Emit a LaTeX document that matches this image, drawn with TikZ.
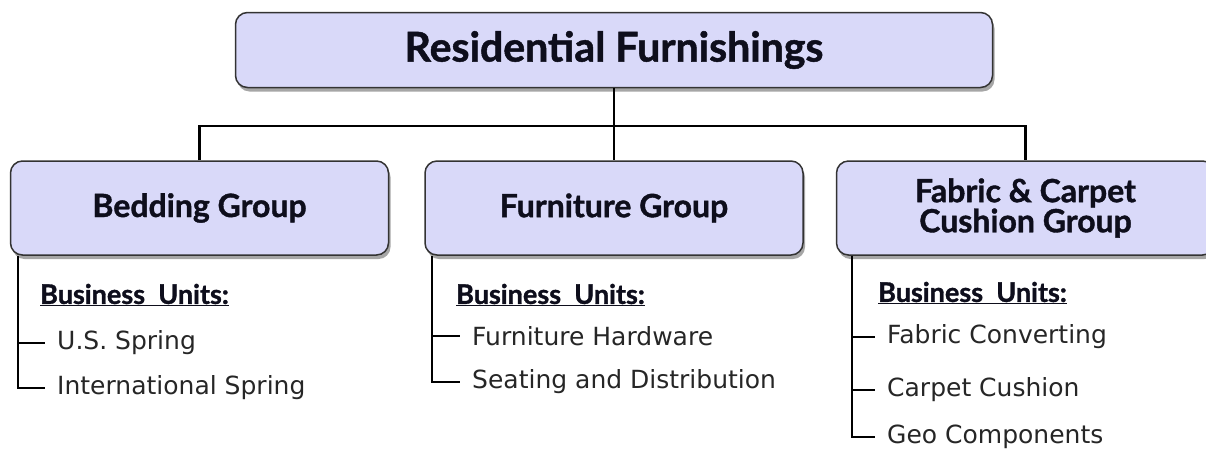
\documentclass[tikz,border=0pt]{standalone}
\usepackage{fontspec}
\setmainfont{DejaVu Sans}
\newfontfamily\headfont{Lato}[BoldFeatures={FakeBold=1.2}]
\usetikzlibrary{positioning,shadows}
\definecolor{boxfill}{HTML}{D9D9F9}
\definecolor{boxline}{HTML}{333333}
\definecolor{headtext}{HTML}{0E0E1C}
\tikzset{
  conn/.style={line width=2.5pt, black},
  subconn/.style={line width=1.6pt, black},
  box/.style={draw=boxline, line width=1.5pt, fill=boxfill, rounded corners=12pt, align=center, text=headtext,
    drop shadow={shadow xshift=2pt, shadow yshift=-4pt, opacity=0.35, fill=black}},
  topbox/.style={box, minimum width=757pt, minimum height=75pt, font=\headfont\bfseries\fontsize{41}{44}\selectfont},
  groupbox/.style={box, minimum width=378pt, minimum height=94pt, font=\headfont\bfseries\fontsize{32}{28}\selectfont},
  unitshead/.style={anchor=west, inner sep=0pt, text=headtext, font=\headfont\bfseries\fontsize{27}{30}\selectfont},
  unit/.style={anchor=west, inner xsep=12pt, inner ysep=1pt, text=black!85, font=\fontsize{25}{28}\selectfont}
}
\begin{document}
\begin{tikzpicture}[x=1pt, y=1pt, node distance=35pt]
  \useasboundingbox (0,0) rectangle (1206,-451);
  \node[topbox] (resfurn) at (614,-50) {Residential Furnishings};
  \node[groupbox] (furniture) at (614,-208) {Furniture Group};
  \node[groupbox, left=35pt of furniture] (bedding) {Bedding Group};
  \node[groupbox, right=32pt of furniture] (fabric) {Fabric \& Carpet\\Cushion Group};

  \coordinate (bar) at (614,-126);
  \draw[conn] (resfurn.south) -- (furniture.north);
  \draw[conn] (bedding.north) |- (bar) -| (fabric.north);

  % bedding units
  \coordinate (bedtrunk) at ([xshift=8pt]bedding.south west);
  \node[unitshead] (bedhead) at (40,-295) {\underline{Business\ \ Units:}};
  \node[unit] (usspring) at (45,-343) {U.S. Spring};
  \node[unit] (intlspring) at (45,-388) {International Spring};
  \draw[subconn] (bedtrunk) |- (usspring.west);
  \draw[subconn] (bedtrunk) |- (intlspring.west);

  % furniture units
  \coordinate (furtrunk) at ([xshift=8pt]furniture.south west);
  \node[unitshead] (furhead) at (456,-295) {\underline{Business\ \ Units:}};
  \node[unit] (hardware) at (460,-336) {Furniture Hardware};
  \node[unit] (seating) at (460,-382) {Seating and Distribution};
  \draw[subconn] (furtrunk) |- (hardware.west);
  \draw[subconn] (furtrunk) |- (seating.west);

  % fabric units
  \coordinate (fabtrunk) at ([xshift=16pt]fabric.south west);
  \node[unitshead] (fabhead) at (878,-293) {\underline{Business\ \ Units:}};
  \node[unit] (converting) at (875,-337) {Fabric Converting};
  \node[unit] (cushion) at (875,-390) {Carpet Cushion};
  \node[unit] (geo) at (875,-437) {Geo Components};
  \draw[subconn] (fabtrunk) |- (converting.west);
  \draw[subconn] (fabtrunk) |- (cushion.west);
  \draw[subconn] (fabtrunk) |- (geo.west);
\end{tikzpicture}
\end{document}
